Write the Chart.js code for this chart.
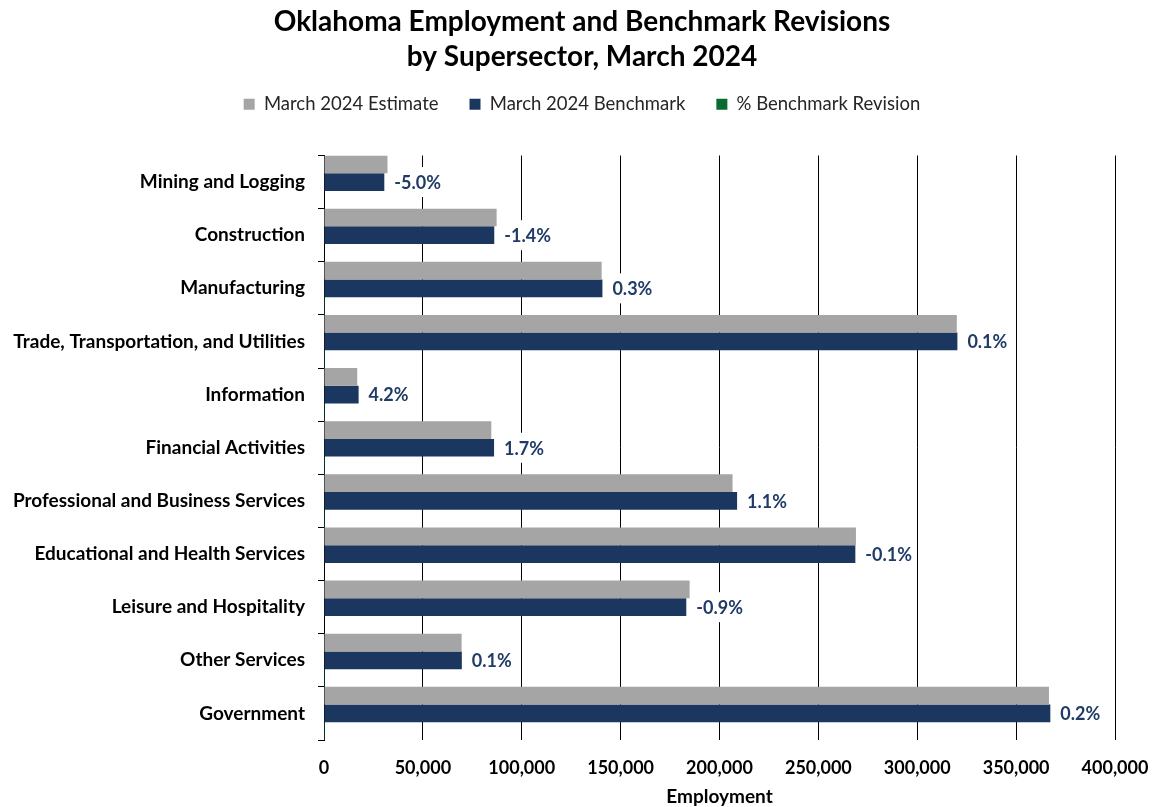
<!DOCTYPE html>
<html>
<head>
<meta charset="utf-8">
<script src="https://cdn.jsdelivr.net/npm/chart.js@4.4.1/dist/chart.umd.min.js"></script>
<style>
  html, body { margin: 0; padding: 0; background: #ffffff; }
  #wrap { width: 1154px; height: 807px; }
</style>
</head>
<body>
<div id="wrap"><canvas id="chart" width="1154" height="807"></canvas></div>
<script>
// Supersectors, top to bottom
const categories = [
  'Mining and Logging',
  'Construction',
  'Manufacturing',
  'Trade, Transportation, and Utilities',
  'Information',
  'Financial Activities',
  'Professional and Business Services',
  'Educational and Health Services',
  'Leisure and Hospitality',
  'Other Services',
  'Government'
];

// Employment, March 2024
const estimate  = [32100, 87300, 140400, 320000, 16800, 84600, 206600, 269000, 184900, 69600, 366600];
const benchmark = [30500, 86100, 140800, 320300, 17500, 86000, 208900, 268700, 183200, 69700, 367300];

// Percent revision from estimate to benchmark
const revisionPct = [-5.0, -1.4, 0.3, 0.1, 4.2, 1.7, 1.1, -0.1, -0.9, 0.1, 0.2];

// Employment axis ticks
const xTicks = [0, 50000, 100000, 150000, 200000, 250000, 300000, 350000, 400000];

const FONT = 'Lato, "Open Sans", "DejaVu Sans", sans-serif';
const GRAY = '#a5a5a5';
const NAVY = '#1b365f';
const GREEN = '#0a6b31';
const LABEL_NAVY = '#1f3b66';

// Extra space between the legend and the plot
const legendGap = {
  id: 'legendGap',
  beforeInit(chart) {
    const originalFit = chart.legend.fit;
    chart.legend.fit = function fit() {
      originalFit.bind(chart.legend)();
      this.height += 32;
    };
  }
};

// Let the long category names run into the left margin instead of being clipped
const categoryLabelRoom = {
  id: 'categoryLabelRoom',
  afterLayout(chart) {
    chart.scales.y.left = 0;
  }
};

// Revision percentages written just past each benchmark bar, on a white box
const revisionLabels = {
  id: 'revisionLabels',
  afterDatasetsDraw(chart) {
    const ctx = chart.ctx;
    const meta = chart.getDatasetMeta(1);
    ctx.save();
    ctx.font = 'bold 18px ' + FONT;
    ctx.textBaseline = 'middle';
    ctx.textAlign = 'left';
    meta.data.forEach((bar, i) => {
      const text = revisionPct[i].toFixed(1) + '%';
      const x = bar.x + 10;
      const y = bar.y;
      const w = ctx.measureText(text).width;
      ctx.fillStyle = '#ffffff';
      ctx.fillRect(x - 3, y - 15, w + 6, 30);
      ctx.fillStyle = LABEL_NAVY;
      ctx.fillText(text, x, y + 1);
    });
    ctx.restore();
  }
};

new Chart(document.getElementById('chart'), {
  type: 'bar',
  data: {
    labels: categories,
    datasets: [
      { label: 'March 2024 Estimate', data: estimate, backgroundColor: GRAY, borderWidth: 0, inflateAmount: 0 },
      { label: 'March 2024 Benchmark', data: benchmark, backgroundColor: NAVY, borderWidth: 0, inflateAmount: 0 },
      { label: '% Benchmark Revision', data: revisionPct, backgroundColor: GREEN, borderWidth: 0, inflateAmount: 0 }
    ]
  },
  options: {
    indexAxis: 'y',
    responsive: false,
    animation: false,
    devicePixelRatio: 1,
    categoryPercentage: 1.0,
    barPercentage: 1.0,
    layout: { padding: { top: 0, right: 39, bottom: 0, left: 49 } },
    plugins: {
      title: {
        display: true,
        text: ['Oklahoma Employment and Benchmark Revisions', 'by Supersector, March 2024'],
        color: '#000000',
        font: { family: FONT, size: 28, weight: 'bold', lineHeight: 35 / 28 },
        padding: { top: 4, bottom: -10 }
      },
      legend: {
        display: true,
        position: 'top',
        labels: {
          boxWidth: 11,
          boxHeight: 11,
          padding: 31,
          color: '#262626',
          font: { family: FONT, size: 18.5 }
        }
      },
      tooltip: { enabled: false }
    },
    scales: {
      x: {
        type: 'linear',
        min: 0,
        max: 400000,
        afterBuildTicks(scale) {
          scale.ticks = xTicks.map(v => ({ value: v }));
        },
        afterFit(scale) { scale.height = 67; },
        ticks: {
          color: '#000000',
          font: { family: FONT, size: 18, weight: 'bold' },
          padding: 5,
          maxRotation: 0,
          callback: v => Number(v).toLocaleString('en-US')
        },
        grid: { color: '#000000', lineWidth: 1, drawTicks: true, tickLength: 12, tickColor: 'rgba(0,0,0,0)' },
        border: { display: false },
        title: {
          display: true,
          text: 'Employment',
          color: '#000000',
          font: { family: FONT, size: 19, weight: 'bold' },
          padding: { top: 0, bottom: -1 }
        }
      },
      y: {
        z: 1,
        afterFit(scale) { scale.width = 324 - 49; },
        ticks: {
          color: '#000000',
          font: { family: FONT, size: 19, weight: 'bold' },
          padding: 13,
          autoSkip: false
        },
        grid: { drawOnChartArea: false, drawTicks: true, tickLength: 6, color: '#000000', lineWidth: 1 },
        border: { display: true, color: '#000000', width: 1 }
      }
    }
  },
  plugins: [legendGap, categoryLabelRoom, revisionLabels]
});
</script>
</body>
</html>
